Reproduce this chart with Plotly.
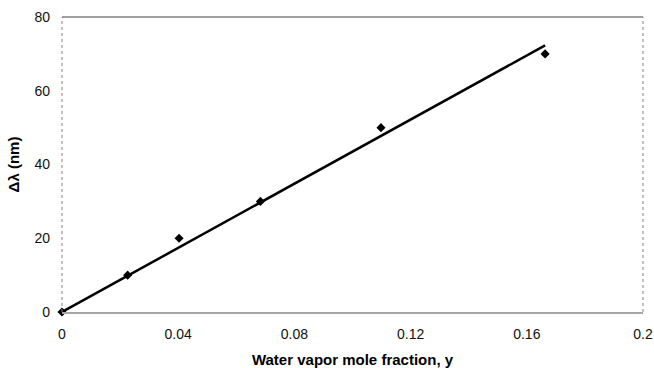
import plotly.graph_objects as go

# Measured data
mole_fraction = [0, 0.0226, 0.0403, 0.0683, 0.1098, 0.1663]
delta_lambda = [0, 10, 20, 30, 50, 70]

# Linear fit line (through origin)
fit_x = [0, 0.1663]
fit_y = [0, 72.3]

x_ticks = [0, 0.04, 0.08, 0.12, 0.16, 0.2]
x_tick_text = ["0", "0.04", "0.08", "0.12", "0.16", "0.2"]
y_ticks = [0, 20, 40, 60, 80]

FONT = "Liberation Sans, Arial, sans-serif"

fig = go.Figure()
fig.add_trace(go.Scatter(
    x=fit_x, y=fit_y, mode="lines",
    line=dict(color="black", width=2.5),
    showlegend=False, hoverinfo="skip", cliponaxis=False,
))
fig.add_trace(go.Scatter(
    x=mole_fraction, y=delta_lambda, mode="markers",
    marker=dict(symbol="diamond", size=7, color="black"),
    showlegend=False, cliponaxis=False,
))

fig.update_layout(
    width=654, height=368,
    margin=dict(l=62, r=11, t=17, b=56),
    paper_bgcolor="white", plot_bgcolor="white",
    font=dict(family=FONT, size=14, color="black"),
    xaxis=dict(
        range=[0, 0.2], tickvals=x_ticks, ticktext=x_tick_text,
        showgrid=False, zeroline=False, automargin=False,
        showline=True, linecolor="#a6a6a6", linewidth=2,
        ticks="", ticklabelstandoff=8,
        tickfont=dict(family=FONT, size=14, color="#111"),
        title=dict(text="<b>Water vapor mole fraction, y</b>", standoff=14,
                   font=dict(family=FONT, size=15)),
    ),
    yaxis=dict(
        range=[0, 80], tickvals=y_ticks,
        showgrid=False, zeroline=False, showline=False, automargin=False,
        ticks="", ticklabelstandoff=11,
        tickfont=dict(family=FONT, size=14, color="#111"),
        title=dict(text="<b>Δλ (nm)</b>", standoff=11,
                   font=dict(family=FONT, size=15)),
    ),
    shapes=[
        dict(type="line", xref="paper", yref="paper", x0=0, x1=1, y0=1, y1=1,
             line=dict(color="#808080", width=1.5)),
        dict(type="line", xref="paper", yref="paper", x0=0, x1=0, y0=0, y1=1,
             line=dict(color="#808080", width=1, dash="dot")),
        dict(type="line", xref="paper", yref="paper", x0=1, x1=1, y0=0, y1=1,
             line=dict(color="#808080", width=1, dash="dot")),
    ],
)

fig.write_html(
    "out.html",
    config={"displayModeBar": False},
    post_script="document.body.style.margin='0';document.body.style.overflow='hidden';",
)
